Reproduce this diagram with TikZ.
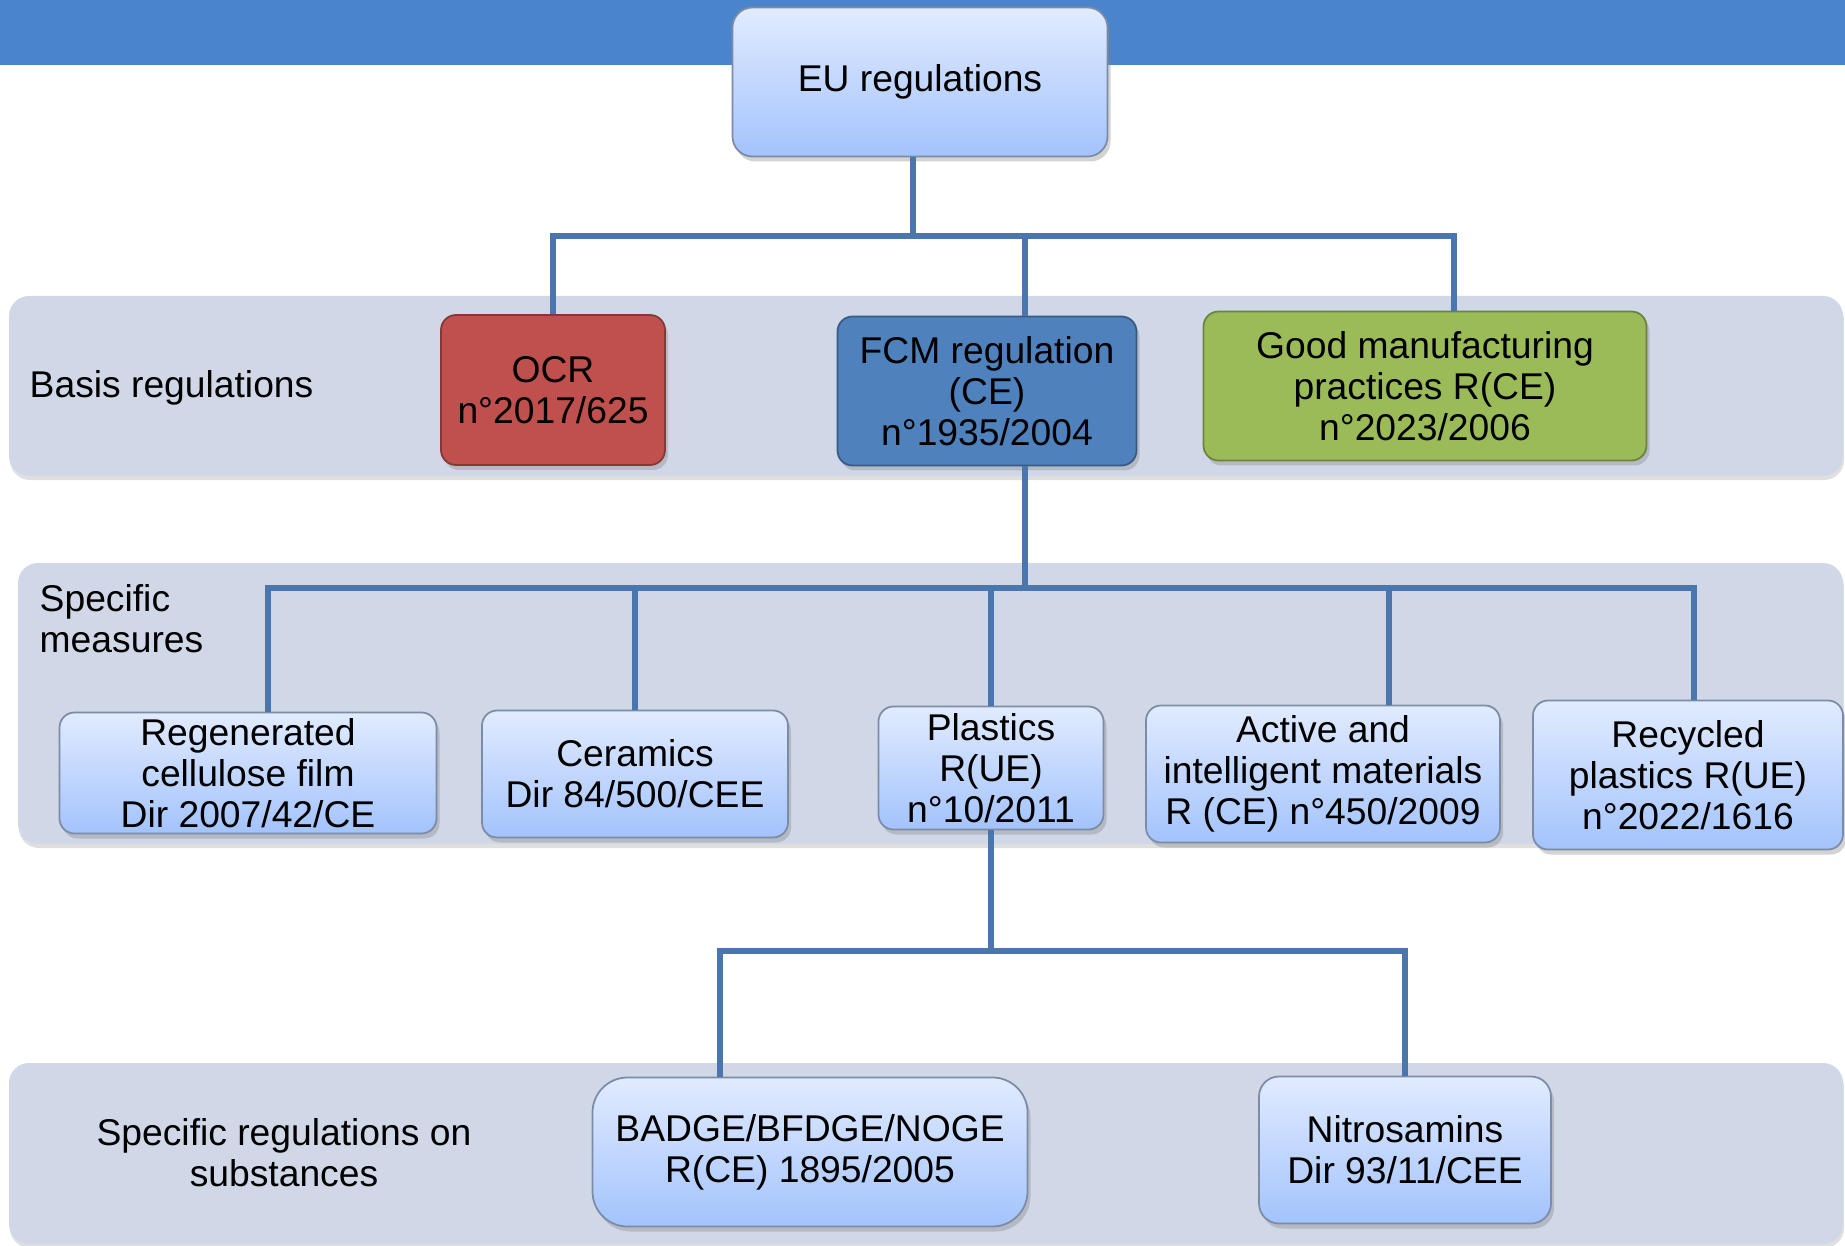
\documentclass[tikz,border=0pt]{standalone}
\usepackage{fontspec}
\setmainfont{Liberation Sans}
\usetikzlibrary{positioning}
\usetikzlibrary{shadows}

\definecolor{headblue}{HTML}{4A84CD}
\definecolor{bandgray}{HTML}{D0D8E8}
\definecolor{linkblue}{HTML}{4A76AD}
\definecolor{boxtop}{HTML}{E1EBFF}
\definecolor{boxbottom}{HTML}{A3C3FC}
\definecolor{boxedge}{HTML}{7C8CA6}
\definecolor{ocrred}{HTML}{C0504D}
\definecolor{fcmblue}{HTML}{4F81BD}
\definecolor{gmpgreen}{HTML}{9BBB59}

\tikzset{
    txt/.style={font=\fontsize{10.6pt}{11.6pt}\selectfont, align=center, inner sep=0},
    band/.style={fill=bandgray, rounded corners=2mm, drop shadow={shadow xshift=0.1mm, shadow yshift=-0.4mm, opacity=0.25}},
    regbox/.style={txt, rectangle, rounded corners=1.5mm, line width=0.5pt, drop shadow={shadow xshift=0.3mm, shadow yshift=-0.5mm, opacity=0.35}},
    bluebox/.style={regbox, draw=boxedge, top color=boxtop, bottom color=boxbottom},
    basisbox/.style={regbox, fill=#1, draw=#1!70!black},
    link/.style={draw=linkblue, line width=1.7pt},
}

\begin{document}
\begin{tikzpicture}[x=0.1mm, y=-0.1mm]
    \useasboundingbox (0,0) rectangle (1845,1246);
    % bands
    \fill[headblue] (0,0) rectangle (1845,65);
    \fill[band] (9,296) rectangle (1843,476);
    \fill[band] (18,563) rectangle (1843,844);
    \fill[band] (9,1063) rectangle (1843,1244);
    \node[txt, anchor=west] (basis) at (29,388) {Basis regulations};
    \node[txt, anchor=west, align=left] (specific) at (39,619) {Specific\\measures};
    \node[txt] (substances) at (284,1153) {Specific regulations on\\substances};
    % top and basis regulations
    \node[bluebox, rounded corners=2mm, minimum width=37.5mm, minimum height=14.9mm] (eu) at (920,82) {EU regulations};
    \node[basisbox=ocrred, minimum width=22.4mm, minimum height=15mm] (ocr) at (553,390) {OCR\\n°2017/625};
    \node[basisbox=fcmblue, minimum width=29.9mm, minimum height=14.9mm] (fcm) at (987,391) {FCM regulation\\(CE)\\n°1935/2004};
    \node[basisbox=gmpgreen, minimum width=44.3mm, minimum height=14.9mm] (gmp) at (1425,386) {Good manufacturing\\practices R(CE)\\n°2023/2006};
    % specific measures
    \node[bluebox, minimum width=37.7mm, minimum height=12.1mm] (cellulose) at (248,773) {Regenerated\\cellulose film\\Dir 2007/42/CE};
    \node[bluebox, minimum width=30.6mm, minimum height=12.7mm] (ceramics) at (635,774) {Ceramics\\Dir 84/500/CEE};
    \node[bluebox, minimum width=22.5mm, minimum height=12.3mm] (plastics) at (991,768) {Plastics\\R(UE)\\n°10/2011};
    \node[bluebox, minimum width=35.4mm, minimum height=13.7mm] (active) at (1323,774) {Active and\\intelligent materials\\R (CE) n°450/2009};
    \node[bluebox, minimum width=31mm, minimum height=14.9mm] (recycled) at (1688,775) {Recycled\\plastics R(UE)\\n°2022/1616};
    % substances
    \node[bluebox, rounded corners=3.5mm, minimum width=43.5mm, minimum height=14.9mm] (badge) at (810,1152) {BADGE/BFDGE/NOGE\\R(CE) 1895/2005};
    \node[bluebox, rounded corners=2mm, minimum width=29.2mm, minimum height=14.7mm] (nitro) at (1405,1150) {Nitrosamins\\Dir 93/11/CEE};
    % connectors
    \coordinate (split1) at (913,236);
    \coordinate (split2) at (1025,588);
    \coordinate (split3) at (991,951);
    \draw[link] (eu.south -| split1) -- (split1) -| (ocr.north);
    \draw[link] (split1) -| ([xshift=2.9mm]gmp.north);
    \draw[link] (split1) -| (fcm.north -| split2);
    \draw[link] (fcm.south -| split2) -- (split2) -| ([xshift=2mm]cellulose.north);
    \draw[link] (split2) -| (ceramics.north);
    \draw[link] (split2) -| (plastics.north);
    \draw[link] (split2) -| ([xshift=6.6mm]active.north);
    \draw[link] (split2) -| ([xshift=0.6mm]recycled.north);
    \draw[link] (plastics.south) -- (split3) -| ([xshift=-9mm]badge.north);
    \draw[link] (split3) -| (nitro.north);
\end{tikzpicture}
\end{document}
